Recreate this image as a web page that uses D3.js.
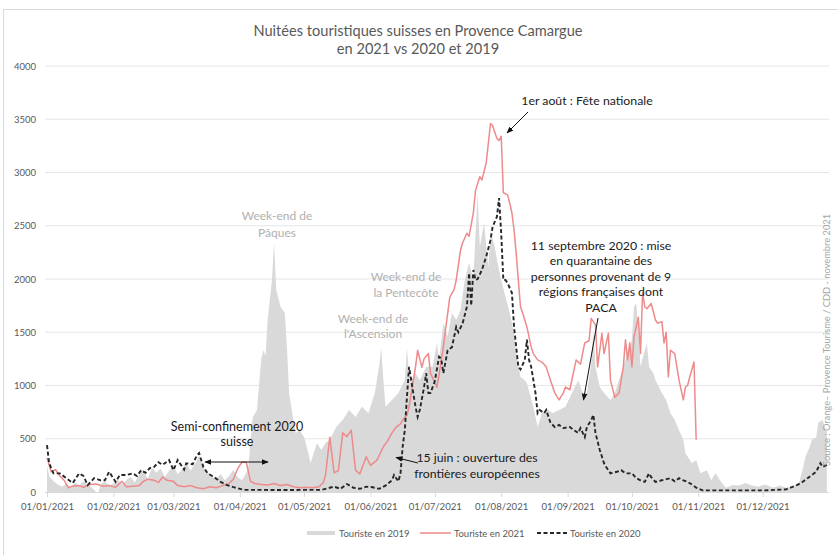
<!DOCTYPE html>
<html><head><meta charset="utf-8">
<script src="https://cdn.jsdelivr.net/npm/d3@7"></script>
<style>body{margin:0;background:#fff} svg{display:block;font-family:Lato,'Open Sans',sans-serif}</style>
</head><body><svg id="c" width="838" height="555"></svg>
<script>
// ---- data (day offsets from 01/01/2021, values = nuitées) ----
const days2019 = [0,1,3,5,7,9,11,13,15,17,19,21,23,24,25,27,29,31,33,35,37,39,41,43,45,47,49,51,53,55,57,59,61,63,65,67,69,71,73,75,77,79,81,83,85,87,89,91,93,94,96,98,100,101,102,103,105,106,107,109,111,112,113,115,116,118,120,122,123,126,128,130,132,135,138,141,144,147,150,153,155,156,157,158,161,164,167,168,169,170,172,174,177,180,182,183,185,187,189,191,193,195,197,199,201,202,204,206,207,209,210,212,214,216,218,219,221,223,224,227,229,231,234,236,239,242,245,248,250,252,254,255,256,258,260,263,265,267,270,272,273,274,275,276,277,280,281,283,284,287,289,291,293,295,297,298,301,303,305,308,310,312,315,317,320,323,326,329,332,335,339,342,345,348,351,353,354,356,357,359,360,362,364];
const tourists2019 = [250,150,100,70,50,80,40,90,60,100,70,40,0,0,70,100,60,80,120,70,110,140,90,160,210,120,230,180,220,140,200,250,170,210,280,200,260,340,230,180,150,120,170,110,150,210,140,110,180,240,700,770,1250,1330,1280,1615,1990,2340,1900,1740,1680,1360,930,675,555,580,515,365,270,460,395,460,490,610,675,770,705,800,740,930,1175,1350,1050,800,865,930,1050,1350,1100,1050,1115,1050,1175,1175,1400,1240,1585,1460,1680,1615,1710,1990,2150,2000,2800,2300,2525,2110,2450,2300,2180,1990,1830,1680,1490,1300,1080,1050,1020,800,610,740,770,740,770,800,930,1050,930,930,1210,1520,1175,985,930,865,930,1050,1240,1350,1430,1740,1775,1550,1175,1400,1175,1115,1050,930,865,740,675,580,490,365,270,300,175,205,110,175,85,40,65,60,85,60,50,70,40,60,40,50,85,235,330,425,490,515,650,675,555];

const days2021 = [0,2,4,6,8,10,12,15,17,20,23,26,29,32,35,37,40,43,45,47,50,52,54,56,59,61,64,67,70,73,76,79,82,85,87,89,91,93,95,97,100,103,106,109,112,115,118,121,124,127,129,130,132,134,136,138,140,142,144,146,149,151,154,157,159,161,163,165,166,168,169,171,172,173,175,176,178,179,182,183,185,186,188,190,191,193,194,196,197,199,200,202,203,205,207,208,210,211,212,213,215,216,217,218,219,220,221,222,223,224,226,227,229,231,233,235,237,239,241,242,244,247,249,251,253,254,256,257,259,260,262,263,265,267,269,270,271,272,273,274,276,277,278,279,280,282,284,285,287,288,289,290,291,293,294,295,297,298,299,300,302,303];
const tourists2021 = [320,190,210,150,110,40,55,60,45,70,75,55,60,45,100,50,55,60,100,120,110,90,140,110,100,60,50,60,40,30,50,40,60,80,120,220,280,280,100,80,70,65,80,60,70,50,40,45,40,50,90,160,515,180,200,555,520,580,205,170,330,250,300,425,480,555,610,640,675,720,800,1050,1175,1330,1170,1250,1300,1115,985,1100,1360,1520,1830,1900,1990,2270,2340,2430,2400,2620,2830,2960,2930,3090,3460,3440,3320,3300,3340,2810,2790,2710,2620,2460,2240,1990,1740,1680,1615,1550,1360,1300,1240,1220,1175,1050,930,865,930,985,960,1240,1200,1400,1420,1630,1570,1175,1490,1300,1490,1050,890,930,1175,1430,1240,1400,1175,1460,1640,1300,1870,1740,1720,1770,1615,1585,1600,1400,1500,1080,1330,1300,1175,1050,865,985,1000,1080,1220,490];

const days2020 = [0,1,3,6,9,12,15,17,19,22,25,27,29,32,34,37,40,42,44,46,48,50,52,54,57,59,61,64,65,68,70,71,73,75,78,81,84,87,92,100,110,120,128,134,137,140,143,146,149,152,155,158,161,162,164,165,166,167,168,169,170,172,173,174,176,177,178,179,180,181,183,184,185,187,189,191,192,194,196,197,198,199,200,201,203,205,207,208,210,211,212,213,214,215,217,218,220,221,223,224,225,226,228,229,230,232,233,235,237,239,241,244,246,248,249,251,252,254,255,256,258,260,261,263,266,268,270,273,275,277,279,281,282,284,287,291,293,295,297,299,301,303,306,320,335,345,347,350,352,355,357,359,361,362,364];
const tourists2020 = [440,270,175,175,130,85,175,150,65,130,110,110,190,95,160,160,175,150,205,180,225,235,280,255,300,205,300,210,270,260,345,365,235,175,140,95,65,45,20,20,18,20,20,50,30,75,40,30,50,45,30,60,110,160,100,175,425,580,890,1175,1050,800,705,770,985,1115,930,930,985,1040,1270,1250,1115,1330,1360,1550,1500,1585,1740,2055,1750,2085,1990,2000,2085,2210,2365,2490,2585,2760,2430,1990,1990,1960,1870,1550,1175,1150,1240,1430,1240,1175,930,740,770,740,770,650,610,630,600,610,580,555,600,515,610,675,725,555,395,270,235,175,190,205,175,175,130,110,95,175,140,95,110,130,100,130,110,95,70,40,15,15,15,25,40,65,85,130,160,190,270,235,255];

const yTickValues = [0,500,1000,1500,2000,2500,3000,3500,4000];
const xTickLabels = ["01/01/2021","01/02/2021","01/03/2021","01/04/2021","01/05/2021","01/06/2021","01/07/2021","01/08/2021","01/09/2021","01/10/2021","01/11/2021","01/12/2021"];
const legendLabels = ["Touriste en 2019","Touriste en 2021","Touriste en 2020"];

// ---- drawing ----
const svg = d3.select('#c');
const start = new Date(2021,0,1);
const toDate = d => d3.timeDay.offset(start, d);
const x = d3.scaleTime().domain([start, new Date(2022,0,1)]).range([47,829]);
const y = d3.scaleLinear().domain([0,4000]).range([492,66]);
const txt = '#595959';

// chart border
svg.append('rect').attr('x',3.5).attr('y',9.5).attr('width',850).attr('height',560)
  .attr('fill','none').attr('stroke','#d9d9d9');

// title
svg.append('text').attr('x',418).attr('y',36).attr('text-anchor','middle')
  .attr('font-size',14.6).attr('fill',txt).text('Nuitées touristiques suisses en Provence Camargue');
svg.append('text').attr('x',418).attr('y',54).attr('text-anchor','middle')
  .attr('font-size',14.6).attr('fill',txt).text('en 2021 vs 2020 et 2019');

// gridlines + y labels
yTickValues.forEach(v => {
  if (v > 0) svg.append('line').attr('x1',45).attr('x2',829).attr('y1',y(v)).attr('y2',y(v))
    .attr('stroke','#e6e6e6').attr('stroke-width',1);
  svg.append('text').attr('x',36).attr('y',y(v)+3.5).attr('text-anchor','end')
    .attr('font-size',9.5).attr('fill',txt).text(v);
});

// 2019 area
const s2019 = days2019.map((d,i)=>({date:toDate(d), v:tourists2019[i]}));
svg.append('path').datum(s2019)
  .attr('fill','#d9d9d9')
  .attr('d', d3.area().x(d=>x(d.date)).y0(y(0)).y1(d=>y(d.v)));

// 2021 line
const s2021 = days2021.map((d,i)=>({date:toDate(d), v:tourists2021[i]}));
svg.append('path').datum(s2021).attr('fill','none').attr('stroke','#ee8a8a')
  .attr('stroke-width',1.5).attr('stroke-linejoin','round')
  .attr('d', d3.line().x(d=>x(d.date)).y(d=>y(d.v)));

// 2020 line
const s2020 = days2020.map((d,i)=>({date:toDate(d), v:tourists2020[i]}));
svg.append('path').datum(s2020).attr('fill','none').attr('stroke','#262626')
  .attr('stroke-width',1.9).attr('stroke-dasharray','4,2.5')
  .attr('d', d3.line().x(d=>x(d.date)).y(d=>y(d.v)));

// x axis
const months = d3.timeMonth.range(start, new Date(2021,11,2));
const xAxis = d3.axisBottom(x).tickValues(months)
  .tickFormat((d,i)=>xTickLabels[i]).tickSize(5).tickPadding(6);
const gx = svg.append('g').attr('transform','translate(0,492)').call(xAxis);
gx.select('.domain').attr('stroke','#d9d9d9').attr('d','M45,0.5H829');
gx.selectAll('.tick line').attr('stroke','#d9d9d9');
gx.selectAll('.tick text').attr('fill',txt).attr('font-size',9.6).attr('font-family','Lato');

// legend
const ly = 533;
svg.append('rect').attr('x',307).attr('y',ly-2).attr('width',28).attr('height',4).attr('fill','#d9d9d9');
svg.append('line').attr('x1',420).attr('x2',451).attr('y1',ly).attr('y2',ly).attr('stroke','#ee8a8a').attr('stroke-width',1.5);
svg.append('line').attr('x1',537).attr('x2',567).attr('y1',ly).attr('y2',ly).attr('stroke','#262626').attr('stroke-width',1.8).attr('stroke-dasharray','4,2.5');
[[339,0],[454,1],[570,2]].forEach(([lx,i])=>{
  svg.append('text').attr('x',lx).attr('y',ly+3.5).attr('font-size',9.5).attr('fill',txt).text(legendLabels[i]);
});

// source
svg.append('text').attr('transform','translate(830,340) rotate(-90)').attr('text-anchor','middle')
  .attr('font-size',9.3).attr('fill','#a6a6a6').text('Source : Orange– Provence Tourisme  / CDD - novembre 2021');

// arrow markers
const defs = svg.append('defs');
defs.append('marker').attr('id','ah').attr('viewBox','0 0 10 10').attr('refX',9).attr('refY',5)
  .attr('markerWidth',7).attr('markerHeight',7).attr('orient','auto-start-reverse')
  .append('path').attr('d','M0,1L10,5L0,9z').attr('fill','#111');
function arrow(x1,y1,x2,y2,both){
  const l = svg.append('line').attr('x1',x1).attr('y1',y1).attr('x2',x2).attr('y2',y2)
    .attr('stroke','#111').attr('stroke-width',1).attr('marker-end','url(#ah)');
  if (both) l.attr('marker-start','url(#ah)');
}
function label(lines, cx, cy0, dy, color, fs){
  lines.forEach((t,i)=>svg.append('text').attr('x',cx).attr('y',cy0+i*dy).attr('text-anchor','middle')
    .attr('font-size',fs||12.3).attr('fill',color).text(t));
}
const grey = '#b0b0b0', dark = '#1a1a1a';
label(['Week-end de','Pâques'],277,220,16.5,grey,12);
label(['Week-end de','la Pentecôte'],406,281,15.5,grey,12);
label(['Week-end de',"l'Ascension"],373,322.5,15.5,grey,12);
label(['1er août : Fête nationale'],587,104.5,0,dark);
label(['11 septembre 2020 : mise','en quarantaine des','personnes provenant de 9','régions françaises dont','PACA'],601,249.5,15.5,dark);
label(['Semi-confinement 2020','suisse'],237,431,15,dark,12.5);
label(['15 juin : ouverture des','frontières européennes'],477,462,15.5,dark);
arrow(528,112,507,133);
arrow(598,318,583.5,400);
arrow(418,463,396,457.5);
arrow(205,462,268,462,true);
</script></body></html>
